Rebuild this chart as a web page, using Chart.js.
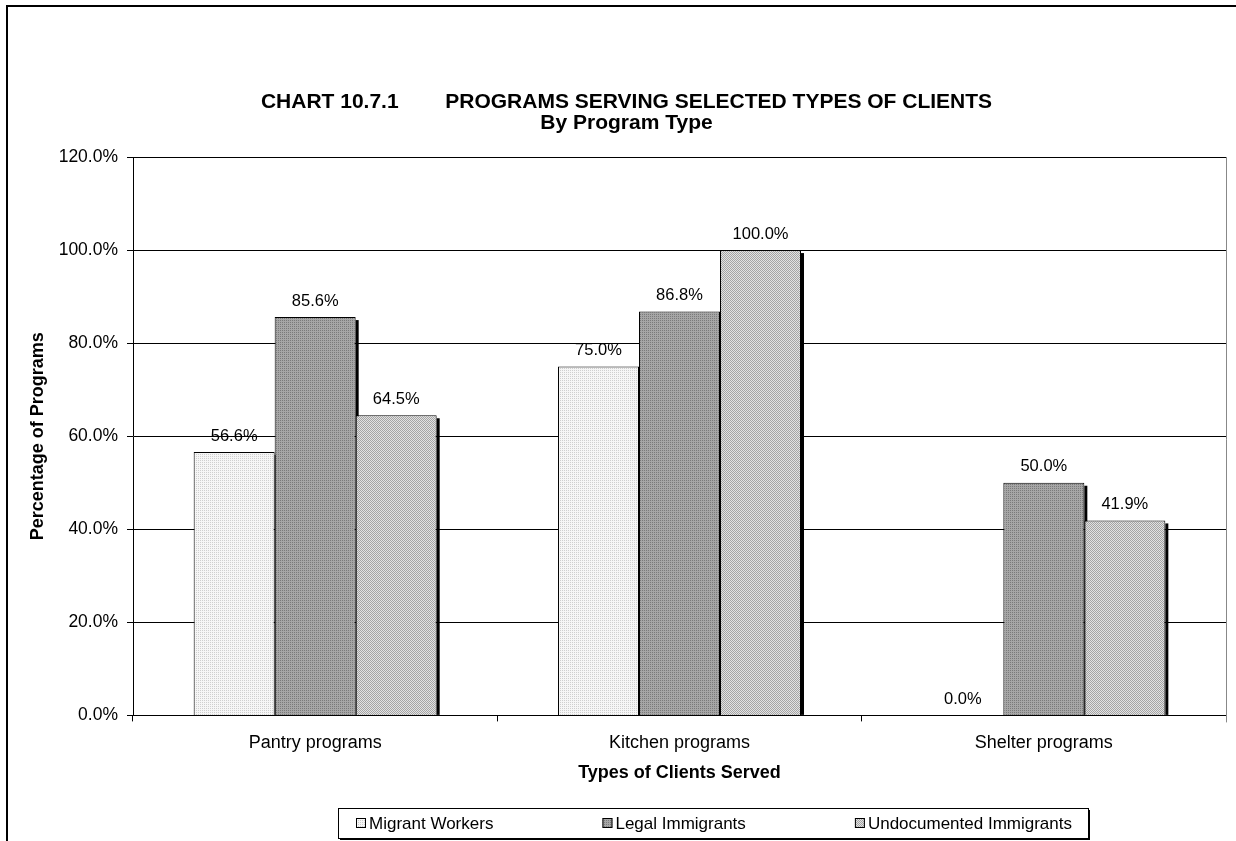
<!DOCTYPE html>
<html>
<head>
<meta charset="utf-8">
<script src="https://cdn.jsdelivr.net/npm/chart.js@4.4.1/dist/chart.umd.min.js"></script>
<style>
  html, body { margin: 0; padding: 0; background: #fff; }
  #wrap { width: 1236px; height: 841px; position: relative; }
</style>
</head>
<body>
<div id="wrap"><canvas id="c" width="1236" height="841"></canvas></div>
<script>
const categories = ['Pantry programs', 'Kitchen programs', 'Shelter programs'];
const seriesNames = ['Migrant Workers', 'Legal Immigrants', 'Undocumented Immigrants'];
const migrantWorkers = [56.6, 75.0, 0.0];
const legalImmigrants = [85.6, 86.8, 50.0];
const undocumentedImmigrants = [64.5, 100.0, 41.9];
const yTicks = [0, 20, 40, 60, 80, 100, 120];

const titleText = 'CHART 10.7.1        PROGRAMS SERVING SELECTED TYPES OF CLIENTS';
const subtitleText = 'By Program Type';
const yTitle = 'Percentage of Programs';
const xTitle = 'Types of Clients Served';

function makePattern(a, b, kind) {
  const p = document.createElement('canvas');
  p.width = 2; p.height = 2;
  const g = p.getContext('2d');
  g.fillStyle = a; g.fillRect(0, 0, 2, 2);
  g.fillStyle = b;
  if (kind === 'check') { g.fillRect(0, 0, 1, 1); g.fillRect(1, 1, 1, 1); }
  else { g.fillRect(0, 0, 1, 1); }
  return document.getElementById('c').getContext('2d').createPattern(p, 'repeat');
}
const fills = [
  makePattern('#f6f6f6', '#cfcfcf', 'dot'),
  makePattern('#a6a6a6', '#7a7a7a', 'dot'),
  makePattern('#e2e2e2', '#a4a4a4', 'check')
];
const values = [migrantWorkers, legalImmigrants, undocumentedImmigrants];

const FONT = 'Arial, "Liberation Sans", sans-serif';

const framePlugin = {
  id: 'frame',
  beforeDraw(chart) {
    const c = chart.ctx;
    c.save();
    c.fillStyle = '#fff';
    c.fillRect(0, 0, chart.width, chart.height);
    c.strokeStyle = '#000';
    c.lineWidth = 2;
    c.beginPath();
    c.moveTo(7, chart.height);
    c.lineTo(7, 6);
    c.lineTo(chart.width, 6);
    c.stroke();
    c.restore();
  },
  afterDraw(chart) {
    const c = chart.ctx, a = chart.chartArea;
    c.save();
    c.strokeStyle = '#888';
    c.lineWidth = 1;
    c.beginPath();
    c.moveTo(Math.round(a.right) + 0.5, a.top);
    c.lineTo(Math.round(a.right) + 0.5, a.bottom + 7);
    c.stroke();

    // custom legend
    const box = { left: 338, right: 1088, top: 808, bottom: 838 };
    c.fillStyle = '#fff';
    c.fillRect(box.left, box.top, box.right - box.left, box.bottom - box.top);
    c.strokeStyle = '#000';
    c.lineWidth = 1;
    c.strokeRect(box.left + 0.5, box.top + 0.5, box.right - box.left, box.bottom - box.top);
    c.fillStyle = '#000';
    c.fillRect(box.left + 2, box.bottom + 1, box.right - box.left, 1);
    c.fillRect(box.right + 1, box.top + 2, 1, box.bottom - box.top);

    c.font = '17px ' + FONT;
    c.textBaseline = 'middle';
    c.textAlign = 'left';
    const mk = 10, gapT = 3, padL = 18, padR = 16;
    const widths = seriesNames.map(n => mk + gapT + c.measureText(n).width);
    const total = widths.reduce((s, w) => s + w, 0);
    const gap = (box.right - box.left - padL - padR - total) / (seriesNames.length - 1);
    const cy = (box.top + box.bottom) / 2;
    let x = box.left + padL;
    seriesNames.forEach((n, i) => {
      c.fillStyle = fills[i];
      c.fillRect(x, cy - mk / 2, mk, mk);
      c.strokeStyle = '#000';
      c.strokeRect(x + 0.5, cy - mk / 2 + 0.5, mk - 1, mk - 1);
      c.fillStyle = '#000';
      c.fillText(n, x + mk + gapT, cy + 1);
      x += widths[i] + gap;
    });
    c.restore();
  }
};

const shadowPlugin = {
  id: 'shadow',
  beforeDatasetsDraw(chart) {
    const c = chart.ctx;
    c.save();
    c.fillStyle = '#000';
    chart.data.datasets.forEach((ds, i) => {
      chart.getDatasetMeta(i).data.forEach((bar, j) => {
        if (!ds.data[j]) return;
        const right = bar.x + bar.width / 2;
        c.fillRect(right, bar.y + 3, 3, bar.base - bar.y - 3);
      });
    });
    c.restore();
  }
};

const labelPlugin = {
  id: 'valueLabels',
  afterDatasetsDraw(chart) {
    const c = chart.ctx;
    c.save();
    c.fillStyle = '#000';
    c.font = '16.5px ' + FONT;
    c.textAlign = 'center';
    c.textBaseline = 'middle';
    chart.data.datasets.forEach((ds, i) => {
      chart.getDatasetMeta(i).data.forEach((bar, j) => {
        c.fillText(ds.data[j].toFixed(1) + '%', bar.x, bar.y - 16);
      });
    });
    c.restore();
  }
};

new Chart(document.getElementById('c'), {
  type: 'bar',
  data: {
    labels: categories,
    datasets: seriesNames.map((n, i) => ({
      label: n,
      data: values[i],
      backgroundColor: fills[i],
      borderColor: '#000',
      borderWidth: (ctx) => (ctx.raw === 0 ? 0 : 1),
      barPercentage: 1.0,
      categoryPercentage: 0.667
    }))
  },
  options: {
    responsive: false,
    animation: false,
    devicePixelRatio: 1,
    layout: { padding: { left: 27, right: 10, top: 0, bottom: 57 } },
    plugins: {
      title: {
        display: true, text: titleText, color: '#000',
        font: { family: FONT, size: 21, weight: 'bold', lineHeight: 1 },
        padding: { top: 92, bottom: 0 }
      },
      subtitle: {
        display: true, text: subtitleText, color: '#000',
        font: { family: FONT, size: 21, weight: 'bold', lineHeight: 1 },
        padding: { top: 0, bottom: 23 }
      },
      legend: { display: false },
      tooltip: { enabled: false }
    },
    scales: {
      x: {
        afterFit(scale) { scale.height = 68.6; },
        grid: { drawOnChartArea: false, drawTicks: true, tickLength: 6, color: '#000', offset: true },
        border: { color: '#000' },
        ticks: { color: '#000', font: { family: FONT, size: 18 }, padding: 11 },
        title: { display: true, text: xTitle, color: '#000', font: { family: FONT, size: 18, weight: 'bold' }, padding: { top: 8, bottom: 0 } }
      },
      y: {
        min: 0, max: 120,
        afterFit(scale) { scale.width = 106; },
        afterBuildTicks(scale) { scale.ticks = yTicks.map(v => ({ value: v })); },
        grid: { color: '#000', tickLength: 6 },
        border: { color: '#000' },
        ticks: { color: '#000', font: { family: FONT, size: 17.5 }, padding: 9, callback: v => v.toFixed(1) + '%' },
        title: { display: true, text: yTitle, color: '#000', font: { family: FONT, size: 18, weight: 'bold' }, padding: { top: 0, bottom: 10 } }
      }
    }
  },
  plugins: [framePlugin, shadowPlugin, labelPlugin]
});
</script>
</body>
</html>
